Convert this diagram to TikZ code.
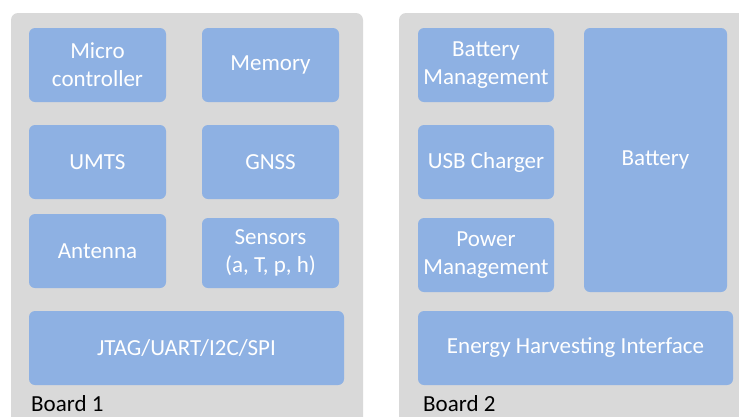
\documentclass[tikz,border=0pt]{standalone}
\usepackage{fontspec}
\setmainfont{Carlito}
\usepackage{tikz}
\definecolor{boardgray}{HTML}{D9D9D9}
\definecolor{partblue}{HTML}{8EB1E3}

\begin{document}
\begin{tikzpicture}
  [x=1pt,y=-1pt,every node/.style={align=center,font=\fontsize{23}{28}\selectfont}]
  \tikzstyle{part}=[fill=partblue,rounded corners=6pt,text=white,inner sep=0pt]
  \tikzstyle{board}=[fill=boardgray,rounded corners=7pt]
  \useasboundingbox (0,0) rectangle (739,416);
  \clip (0,0) rectangle (739,416);
  \begin{scope}
    \fill[board] (11,13) rectangle (363,440);
    \node[part,minimum width=137,minimum height=74] (mcu) at (97.5,65) {Micro \\ controller};
    \node[part,minimum width=137,minimum height=74] (mem) at (270.5,65) {Memory};
    \node[part,minimum width=137,minimum height=74] (umts) at (97.5,162) {UMTS};
    \node[part,minimum width=137,minimum height=74] (gnss) at (270.5,162) {GNSS};
    \node[part,minimum width=137,minimum height=74] (ant) at (97.5,251) {Antenna};
    \node[part,minimum width=137,minimum height=70] (sens) at (270.5,253) {Sensors \\ (a, T, p, h)};
    \node[part,minimum width=315,minimum height=74] (jtag) at (186.5,348) {JTAG/UART/I2C/SPI};
    \node[anchor=base west,inner sep=0pt] (b1) at (31,411) {Board 1};
  \end{scope}
  \begin{scope}
    \fill[board] (399,13) rectangle (760,440);
    \node[part,minimum width=136,minimum height=74] (bm) at (486,65) {Battery \\ Management};
    \node[part,minimum width=136,minimum height=74] (usb) at (486,162) {USB Charger};
    \node[part,minimum width=136,minimum height=74] (pm) at (486,255) {Power \\ Management};
    \node[part,minimum width=143,minimum height=264] (bat) at (655.5,160) {Battery};
    \node[part,minimum width=315,minimum height=74] (ehi) at (575.5,348) {Energy Harvesting Interface};
    \node[anchor=base west,inner sep=0pt] (b2) at (423,411) {Board 2};
  \end{scope}
\end{tikzpicture}
\end{document}
